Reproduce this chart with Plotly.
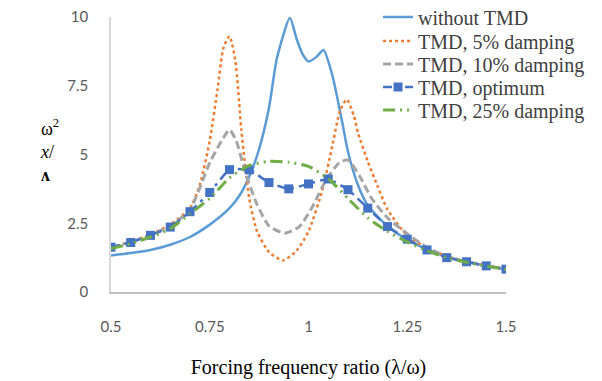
import plotly.graph_objects as go

# Without TMD
x_none = [0.5, 0.55, 0.6, 0.65, 0.7, 0.75, 0.8, 0.825, 0.85, 0.875, 0.9, 0.92, 0.953,
          0.97, 0.985, 1.0, 1.02, 1.038, 1.06, 1.085, 1.1, 1.125, 1.15, 1.2, 1.25, 1.3, 1.35,
          1.4, 1.45, 1.5]
y_none = [1.33, 1.42, 1.53, 1.72, 2.0, 2.45, 3.05, 3.5, 4.2, 5.2, 6.7, 8.5, 9.97,
          9.2, 8.65, 8.38, 8.55, 8.8, 7.9, 6.2, 5.1, 3.9, 3.15, 2.4, 1.9, 1.55, 1.28,
          1.1, 0.95, 0.82]

# TMD, 5% damping
x_5 = [0.5, 0.55, 0.6, 0.65, 0.7, 0.725, 0.75, 0.77, 0.785, 0.8, 0.815, 0.83, 0.85, 0.87,
       0.9, 0.935, 0.97, 1.0, 1.035, 1.06, 1.08, 1.097, 1.115, 1.125, 1.15, 1.175, 1.2,
       1.25, 1.3, 1.35, 1.4, 1.45, 1.5]
y_5 = [1.63, 1.82, 2.1, 2.45, 3.05, 3.9, 5.5, 7.4, 8.9, 9.3, 8.4, 5.9, 3.4, 2.2,
       1.45, 1.15, 1.5, 2.2, 3.7, 5.3, 6.6, 7.0, 6.4, 5.8, 4.75, 3.85, 3.0,
       2.05, 1.6, 1.3, 1.12, 0.96, 0.85]

# TMD, 10% damping
x_10 = [0.5, 0.55, 0.6, 0.65, 0.7, 0.75, 0.78, 0.8, 0.817, 0.838, 0.868, 0.9, 0.94, 0.977,
        1.01, 1.045, 1.078, 1.1, 1.13, 1.16, 1.2, 1.25, 1.3, 1.35, 1.4, 1.45, 1.5]
y_10 = [1.63, 1.82, 2.08, 2.4, 3.0, 4.7, 5.5, 5.9, 5.5, 4.45, 3.24, 2.4, 2.14, 2.38,
        3.1, 4.09, 4.7, 4.8, 4.2, 3.4, 2.7, 2.12, 1.62, 1.3, 1.1, 0.95, 0.84]

# TMD, optimum and TMD, 25% damping (sampled every 0.05)
x_opt = [0.5, 0.55, 0.6, 0.65, 0.7, 0.75, 0.8, 0.85, 0.9, 0.95, 1.0, 1.05, 1.1, 1.15,
         1.2, 1.25, 1.3, 1.35, 1.4, 1.45, 1.5]
y_opt = [1.63, 1.8, 2.06, 2.36, 2.92, 3.62, 4.45, 4.44, 3.98, 3.75, 3.93, 4.11, 3.72, 3.05,
         2.38, 1.92, 1.53, 1.25, 1.1, 0.95, 0.83]
y_25 = [1.58, 1.76, 2.0, 2.3, 2.85, 3.4, 4.15, 4.6, 4.75, 4.72, 4.57, 4.12, 3.4, 2.7,
        2.2, 1.82, 1.5, 1.25, 1.08, 0.94, 0.82]

names = ["without TMD", "TMD, 5% damping", "TMD, 10% damping", "TMD, optimum", "TMD, 25% damping"]
x_ticks = [0.5, 0.75, 1, 1.25, 1.5]
x_tick_text = ["0.5", "0.75", "1", "1.25", "1.5"]
y_ticks = [0, 2.5, 5, 7.5, 10]
y_tick_text = ["0", "2.5", "5", "7.5", "10"]

SERIF = "Liberation Serif"
W, H = 602, 381

fig = go.Figure()
fig.add_trace(go.Scatter(x=x_none, y=y_none, name=names[0], mode="lines", legend="legend",
                         line=dict(color="#5B9BD5", width=2.5, shape="spline", smoothing=0.6)))
fig.add_trace(go.Scatter(x=x_5, y=y_5, name=names[1], mode="lines", legend="legend2",
                         line=dict(color="#ED7D31", width=2.5, dash="dot", shape="spline", smoothing=0.6)))
fig.add_trace(go.Scatter(x=x_10, y=y_10, name=names[2], mode="lines", legend="legend3",
                         line=dict(color="#A5A5A5", width=3, dash="8px,4px", shape="spline", smoothing=0.6)))
fig.add_trace(go.Scatter(x=x_opt, y=y_opt, name=names[3], mode="lines+markers", legend="legend4",
                         line=dict(color="#4472C4", width=2.5, dash="9px,5px,3px,5px", shape="spline", smoothing=0.4),
                         marker=dict(symbol="square", size=9, color="#4472C4")))
fig.add_trace(go.Scatter(x=x_opt, y=y_25, name=names[4], mode="lines", legend="legend5",
                         line=dict(color="#70AD47", width=3, dash="12px,5px,2px,5px,2px,5px", shape="spline", smoothing=0.6)))

tick_font = dict(family="Lato", size=15, color="#595959")

legend_rows = [17, 41, 64, 87, 110]


def leg(row_px):
    return dict(xref="container", yref="container", x=0.628, y=1 - row_px / H,
                xanchor="left", yanchor="middle", bgcolor="rgba(0,0,0,0)",
                font=dict(family=SERIF, size=20, color="#404040"))


fig.update_layout(
    width=W, height=H,
    margin=dict(l=111, r=96, t=17, b=89, autoexpand=False),
    paper_bgcolor="white", plot_bgcolor="white",
    showlegend=True,
    legend=leg(legend_rows[0]),
    legend2=leg(legend_rows[1]),
    legend3=leg(legend_rows[2]),
    legend4=leg(legend_rows[3]),
    legend5=leg(legend_rows[4]),
    xaxis=dict(range=[0.5, 1.5], tickvals=x_ticks, ticktext=x_tick_text, automargin=False,
               showgrid=False, zeroline=False, showline=True, linecolor="#BFBFBF", linewidth=1.5,
               ticks="", ticklabelstandoff=20, tickfont=tick_font,
               title=dict(text="Forcing frequency ratio (λ/ω)",
                          font=dict(family=SERIF, size=20, color="#000000"),
                          standoff=26)),
    yaxis=dict(range=[0, 10], tickvals=y_ticks, ticktext=y_tick_text, automargin=False,
               showgrid=False, zeroline=False, showline=True, linecolor="#D9D9D9", linewidth=1.5,
               ticks="", ticklabelstandoff=18, tickfont=tick_font),
)

fig.add_annotation(xref="paper", yref="paper", x=-0.155, y=0.515, xanchor="center", yanchor="middle",
                   text="ω<sup>2</sup><br><i>x</i>/<br><b>ʌ</b>", showarrow=False, align="left",
                   font=dict(family=SERIF, size=18, color="#000000"))

fig.write_html("out.html", config={"displayModeBar": False},
               post_script="document.body.style.margin='0';")
